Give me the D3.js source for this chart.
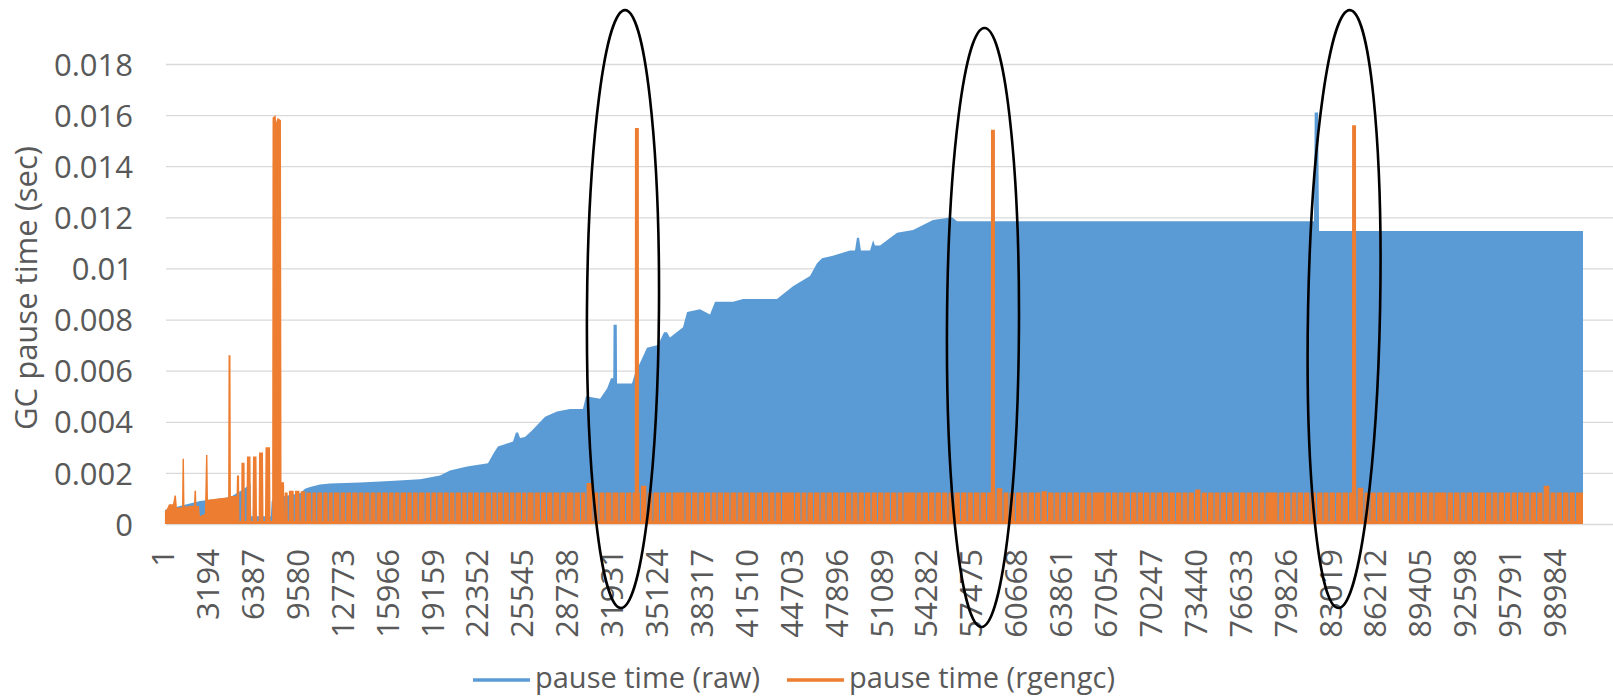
<!doctype html>
<html lang="en">
<head>
<meta charset="utf-8">
<title>GC pause time</title>
<script src="https://cdn.jsdelivr.net/npm/d3@7/dist/d3.min.js"></script>
<style>
    body { margin: 0; background: #fff; }
    text { font-family: "Open Sans", "Noto Sans", sans-serif; fill: #595959; }
</style>
</head>
<body>
<script>

// category ticks (GC number) and value axis
var xTicks = [1, 3194, 6387, 9580, 12773, 15966, 19159, 22352, 25545, 28738, 31931, 35124,
              38317, 41510, 44703, 47896, 51089, 54282, 57475, 60668, 63861, 67054, 70247,
              73440, 76633, 79826, 83019, 86212, 89405, 92598, 95791, 98984];
var yTicks = [0, 0.002, 0.004, 0.006, 0.008, 0.01, 0.012, 0.014, 0.016, 0.018];
var yTickLabels = ["0", "0.002", "0.004", "0.006", "0.008", "0.01", "0.012", "0.014", "0.016", "0.018"];
var lastIndex = 100980;

// pause time (raw): upper envelope of the series, [GC index in thousands, sec]
var rawEnvelope = [
    [0.14, 0.00055], [1.21, 0.0007], [2.63, 0.0009], [4.77, 0.00105], [5.83, 0.0014], [6.22, 0.0016],
    [6.28, 0.0003], [7.67, 0.0003], [7.73, 0.0009], [8.68, 0.0011], [9.75, 0.0012], [10.10, 0.00138],
    [10.46, 0.00145], [11.16, 0.00155], [11.87, 0.00158], [14.01, 0.00162], [16.14, 0.00168],
    [18.28, 0.00175], [19.70, 0.0019], [20.41, 0.00209], [21.62, 0.00225], [23.11, 0.00238],
    [23.54, 0.0028], [23.82, 0.00303], [24.89, 0.00323], [25.10, 0.00358], [25.25, 0.00358],
    [25.39, 0.00337], [25.74, 0.0034], [26.24, 0.00366], [27.17, 0.0042], [28.02, 0.0044],
    [28.94, 0.0045], [29.86, 0.0045], [30.08, 0.005], [31.08, 0.0049], [31.58, 0.0053],
    [31.86, 0.0057], [32.02, 0.0057], [32.04, 0.0078], [32.27, 0.0078], [32.29, 0.0055],
    [33.35, 0.0055], [33.57, 0.0059], [33.92, 0.0063], [34.42, 0.0069], [35.20, 0.007],
    [35.63, 0.0075], [35.84, 0.0075], [36.05, 0.0073], [36.98, 0.0077], [37.27, 0.0083],
    [38.19, 0.0084], [38.90, 0.0082], [39.26, 0.0087], [40.54, 0.0087], [41.25, 0.0088],
    [43.66, 0.0088], [44.80, 0.0093], [46.01, 0.0097], [46.51, 0.0102], [46.86, 0.0104],
    [47.64, 0.0105], [48.85, 0.0107], [49.21, 0.0107], [49.35, 0.0112], [49.50, 0.0112],
    [49.63, 0.0107], [50.28, 0.0107], [50.50, 0.0111], [50.63, 0.0109], [50.99, 0.0109],
    [52.20, 0.0114], [53.34, 0.0115], [54.76, 0.0119], [56.11, 0.012], [56.47, 0.01185],
    [81.85, 0.01185], [81.90, 0.0161], [82.14, 0.0161], [82.21, 0.01147], [100.98, 0.01147]
];

// pause time (rgengc): first GCs, [GC index in thousands, sec]
var rgengcEarly = [
    [0.14, 0.0005], [0.28, 0.0006], [0.43, 0.00077], [0.71, 0.00077], [0.82, 0.00112], [0.92, 0.00112],
    [0.99, 0.00064], [1.35, 0.00066], [1.39, 0.00255], [1.49, 0.00255], [1.53, 0.00068], [2.20, 0.00072],
    [2.24, 0.0013], [2.35, 0.0013], [2.38, 0.0007], [2.56, 0.0007], [2.63, 0.0003], [2.98, 0.0004],
    [3.06, 0.0027], [3.16, 0.0027], [3.20, 0.00095], [4.63, 0.00105], [4.66, 0.0066], [4.80, 0.0066],
    [4.83, 0.0011], [5.23, 0.0011], [5.26, 0.0019], [5.41, 0.0019], [5.44, 0.00012], [5.55, 0.00012],
    [5.58, 0.0024], [5.80, 0.0024], [5.83, 0.00012], [5.93, 0.00012], [5.97, 0.00264], [6.22, 0.00264],
    [6.26, 0.00012], [6.36, 0.00012], [6.40, 0.00264], [6.65, 0.00264], [6.69, 0.00012], [6.80, 0.00012],
    [6.83, 0.0028], [7.11, 0.0028], [7.15, 0.00012], [7.25, 0.00012], [7.29, 0.003], [7.61, 0.003],
    [7.65, 0.00012], [7.76, 0.00012], [7.79, 0.0159], [8.00, 0.016], [8.07, 0.0157], [8.14, 0.0159],
    [8.39, 0.0158], [8.43, 0.00163], [8.61, 0.00163], [8.64, 0.00012]
];
// rgengc after that: steady ~0.00123 with short drops (GC index in thousands)
var rgengcStart = 8.66;
var rgengcLevel = 0.00123;
var rgengcLow = 0.00012;
var rgengcDips = [
    8.91, 9.34, 9.75, 10.15, 10.58, 10.93, 11.36, 11.75, 12.11, 12.59, 12.99, 13.42, 13.88, 14.29,
    14.72, 15.15, 15.56, 16.02, 16.43, 16.85, 17.33, 17.73, 18.15, 18.64, 19.04, 19.47, 19.93, 20.36,
    20.77, 21.24, 21.64, 22.07, 22.50, 22.90, 23.38, 23.77, 24.20, 24.63, 25.03, 25.50, 25.88, 26.39,
    26.84, 27.27, 27.73, 28.23, 28.66, 29.23, 29.69, 30.08, 30.58, 31.00, 31.44, 31.93, 32.43, 32.89,
    33.35, 33.95, 34.42, 34.84, 35.31, 35.73, 36.20, 37.12, 37.59, 38.05, 38.51, 38.97, 39.40, 39.86,
    40.32, 40.82, 41.25, 41.70, 42.17, 42.63, 43.10, 43.53, 43.98, 44.91, 45.37, 45.79, 46.26, 46.72,
    47.15, 47.60, 48.07, 48.53, 49.00, 49.43, 49.88, 50.35, 50.81, 51.27, 51.73, 52.20, 52.62, 53.54,
    53.97, 54.44, 54.90, 55.37, 55.82, 56.25, 56.71, 57.18, 57.63, 58.10, 58.56, 59.24, 59.73, 60.16,
    60.62, 61.09, 61.51, 61.98, 62.43, 62.90, 63.37, 63.79, 64.26, 64.71, 65.18, 65.63, 66.07, 66.99,
    67.45, 67.91, 68.34, 68.80, 69.27, 69.72, 70.19, 70.61, 71.08, 71.54, 72.00, 72.46, 72.89, 73.35,
    73.82, 74.28, 74.74, 75.17, 75.63, 76.09, 76.55, 77.02, 77.47, 77.94, 78.36, 79.30, 79.75, 80.22,
    80.64, 81.11, 81.56, 82.03, 82.49, 82.92, 83.38, 83.84, 84.30, 84.91, 85.40, 85.83, 86.29, 86.76,
    87.22, 87.68, 88.11, 88.57, 89.04, 89.49, 89.96, 90.38, 91.31, 91.77, 92.24, 92.66, 93.13, 93.58,
    94.05, 94.51, 94.94, 95.40, 95.86, 96.32, 96.79, 97.21, 97.68, 98.14, 98.63, 99.06, 99.52,
    99.99, 100.44
];
var rgengcTallTeeth = [[9.05, 0.0013], [9.55, 0.0013], [9.94, 0.00128], [30.34, 0.0016], [34.20, 0.0015],
                       [59.44, 0.0014], [62.71, 0.00128], [73.60, 0.00135], [85.14, 0.00142], [98.25, 0.0015]];
var rgengcSpikes = [[33.70, 0.0155], [59.02, 0.01543], [84.70, 0.0156]];

var seriesNames = ["pause time (raw)", "pause time (rgengc)"];
var seriesColors = ["#5b9bd5", "#ed7d31"];

// annotation ellipses: centre at [GC index, sec]
var ellipses = [
    {idx: 32710, value: 0.00841, rx: 36, ry: 299, angle: 0.4},
    {idx: 58310, value: 0.00769, rx: 36, ry: 299.5, angle: 0.3},
    {idx: 83990, value: 0.00841, rx: 36, ry: 299, angle: 1.1}
];

var svgW = 1613, svgH = 696;
var plot = {left: 166, top: 64, bottom: 524, right: 1613};

var svg = d3.select("body")
            .append("svg")
            .attr("width", svgW)
            .attr("height", svgH);

var x = d3.scaleLinear()
          .domain([1, lastIndex])
          .range([163, 1583]);
var y = d3.scaleLinear()
          .domain([0, 0.018])
          .range([plot.bottom, plot.top]);

// gridlines + value labels
var yAxis = d3.axisLeft(y)
              .tickValues(yTicks)
              .tickSize(-(plot.right - plot.left))
              .tickPadding(33)
              .tickFormat((d, i) => yTickLabels[i]);
var gy = svg.append("g")
            .attr("transform", "translate(" + plot.left + ",0)")
            .call(yAxis);
gy.select(".domain").remove();
gy.selectAll("line").attr("stroke", "#d9d9d9").attr("stroke-width", 1.3);
gy.selectAll("text")
  .style("font-size", "31px")
  .style("font-family", '"Open Sans", sans-serif')
  .attr("fill", "#595959")
  .attr("dy", "0.36em");

svg.append("text")
   .attr("transform", "translate(37,288) rotate(-90)")
   .attr("text-anchor", "middle")
   .style("font-size", "31px")
   .text("GC pause time (sec)");

// raw series, drawn as its envelope
var area = d3.area()
             .x(d => x(d[0]))
             .y0(y(0))
             .y1(d => y(d[1]));

svg.append("path")
   .datum(rawEnvelope.map(d => [d[0] * 1000, d[1]]))
   .attr("d", area)
   .attr("fill", seriesColors[0]);

// rgengc series
var orangePts = rgengcEarly.map(d => [d[0] * 1000, d[1]]);
var bounds = [rgengcStart].concat(rgengcDips).concat([lastIndex / 1000]);
for (var i = 0; i < bounds.length - 1; i++) {
    var a = bounds[i] * 1000, b = bounds[i + 1] * 1000;
    var lvl = rgengcLevel;
    rgengcTallTeeth.forEach(t => { if (t[0] * 1000 > a && t[0] * 1000 < b) lvl = t[1]; });
    var last = (i == bounds.length - 2);
    orangePts.push([i == 0 ? a : a + 45, lvl]);
    rgengcSpikes.forEach(s => {
        var c = s[0] * 1000;
        if (c > a && c < b)
            orangePts.push([c - 150, lvl], [c - 140, s[1]], [c + 140, s[1]], [c + 150, lvl]);
    });
    orangePts.push([last ? b : b - 45, lvl]);
    if (!last) orangePts.push([b - 30, rgengcLow], [b + 30, rgengcLow]);
}

svg.append("path")
   .datum(orangePts)
   .attr("d", area)
   .attr("fill", seriesColors[1]);

// category labels
var xAxis = d3.axisBottom(x)
              .tickValues(xTicks)
              .tickSize(0)
              .tickFormat(d3.format("d"));
var gx = svg.append("g")
            .attr("transform", "translate(0," + plot.bottom + ")")
            .call(xAxis);
gx.select(".domain").remove();
gx.selectAll("text")
  .attr("transform", "rotate(-90)")
  .attr("x", -25)
  .attr("y", -0.5)
  .attr("dy", "0.36em")
  .style("text-anchor", "end")
  .style("font-size", "31px")
  .style("font-family", '"Open Sans", sans-serif')
  .attr("fill", "#595959");

// ellipses
svg.selectAll("ellipse")
   .data(ellipses)
   .enter()
   .append("ellipse")
   .attr("transform", d => "translate(" + x(d.idx) + "," + y(d.value) + ") rotate(" + d.angle + ")")
   .attr("rx", d => d.rx)
   .attr("ry", d => d.ry)
   .attr("fill", "none")
   .attr("stroke", "#000")
   .attr("stroke-width", 2.6);

// legend
var legendX = [473, 787];
var legend = svg.selectAll(".legend")
                .data(seriesNames)
                .enter()
                .append("g")
                .attr("class", "legend")
                .attr("transform", (d, i) => "translate(" + legendX[i] + ",680)");
legend.append("line")
      .attr("x1", 0)
      .attr("x2", 57)
      .attr("stroke", (d, i) => seriesColors[i])
      .attr("stroke-width", 3.5);
legend.append("text")
      .attr("x", 62)
      .attr("y", 8)
      .style("font-size", "29px")
      .text(d => d);

</script>
</body>
</html>
